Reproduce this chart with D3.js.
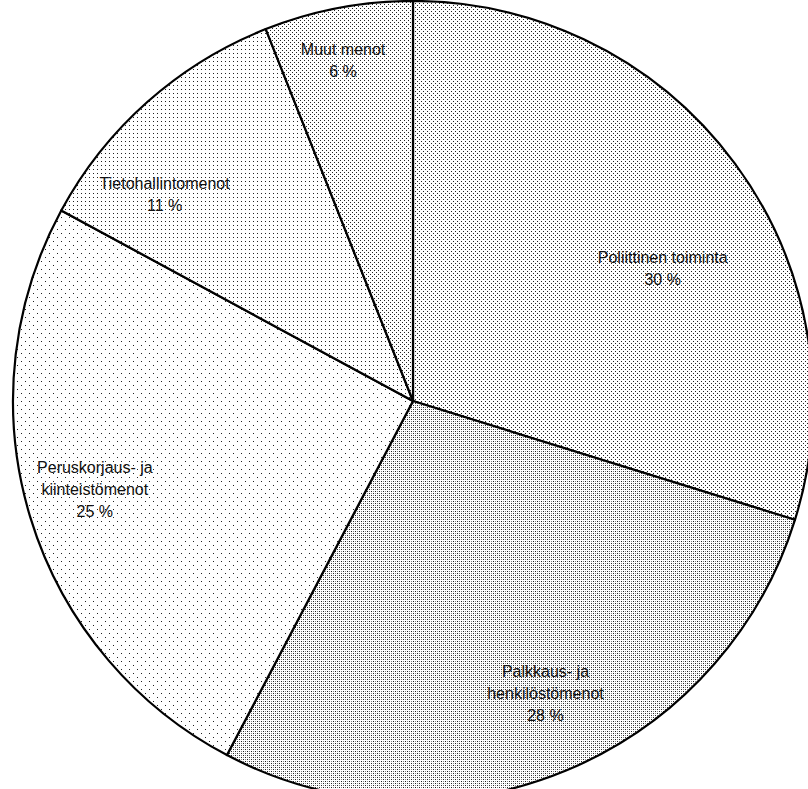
<!DOCTYPE html>
<html>
<head>
<meta charset="utf-8">
<script src="https://cdn.jsdelivr.net/npm/d3@7"></script>
<style>
  body { margin: 0; background: #fff; }
  svg { display: block; }
</style>
</head>
<body>
<svg id="chart" width="808" height="789"></svg>
<script>
var categories = ["Poliittinen toiminta", "Palkkaus- ja henkilöstömenot", "Peruskorjaus- ja kiinteistömenot", "Tietohallintomenot", "Muut menot"]
var labelLines = [["Poliittinen toiminta"], ["Palkkaus- ja", "henkilöstömenot"], ["Peruskorjaus- ja", "kiinteistömenot"], ["Tietohallintomenot"], ["Muut menot"]]
var shares = [29.8, 27.9, 25.2, 11.1, 6.0]
var shareLabels = ["30 %", "28 %", "25 %", "11 %", "6 %"]

var svg = d3.select("#chart")
var cx = 413, cy = 401, R = 400

// dot patterns, one per slice (size, dots)
var patterns = [
  {size: 4, dots: [[0,0],[2,2]]},
  {size: 4, dots: [[0,0],[2,2],[0,2],[2,0]], sub: true},
  {size: 8, dots: [[0,0],[4,4]]},
  {size: 4, dots: [[0,0]]},
  {size: 4, dots: [[1,1],[3,3]]}
]
var defs = svg.append("defs")
patterns.forEach(function(p, i) {
  var pat = defs.append("pattern")
      .attr("id", "pat" + i)
      .attr("patternUnits", "userSpaceOnUse")
      .attr("width", p.size)
      .attr("height", p.size)
  pat.append("rect").attr("width", p.size).attr("height", p.size).attr("fill", "#fff")
  p.dots.forEach(function(d, j) {
    pat.append("rect")
        .attr("x", d[0]).attr("y", d[1])
        .attr("width", 1).attr("height", 1)
        .attr("fill", p.sub && j > 1 ? "#888" : "#222")
  })
})

var pie = d3.pie().sort(null).value(function(d){ return d })
var arcs = pie(shares)
var arc = d3.arc().innerRadius(0).outerRadius(R)

var g = svg.append("g").attr("transform", "translate(" + cx + "," + cy + ")")

g.selectAll("path")
    .data(arcs).enter()
    .append("path")
        .attr("d", arc)
        .attr("fill", function(d, i){ return "url(#pat" + i + ")" })
        .attr("stroke", "#000")
        .attr("stroke-width", 2.2)
        .attr("stroke-linejoin", "round")

// label placement: centroid on a ring, then small nudges like excel's best fit
var labelArc = d3.arc().innerRadius(R * 0.8).outerRadius(R * 0.8)
var nudge = [[-8, 58], [10, -3], [-12, -4], [-36, 33], [-10, -26]]
var lh = 22

var labels = g.selectAll("g.lbl")
    .data(arcs).enter()
    .append("g")
        .attr("class", "lbl")
        .attr("transform", function(d, i) {
            var c = labelArc.centroid(d)
            return "translate(" + (c[0] + nudge[i][0]) + "," + (c[1] + nudge[i][1]) + ")"
        })

labels.each(function(d, i) {
    var lines = labelLines[i].concat([shareLabels[i]])
    var t = d3.select(this).append("text")
        .attr("text-anchor", "middle")
        .attr("font-family", "Liberation Sans, Arial, sans-serif")
        .attr("font-size", 16)
        .attr("fill", "#111")
    lines.forEach(function(s, k) {
        t.append("tspan")
            .attr("x", 0)
            .attr("y", (k - (lines.length - 1) / 2) * lh + 5)
            .text(s)
    })
})
</script>
</body>
</html>
